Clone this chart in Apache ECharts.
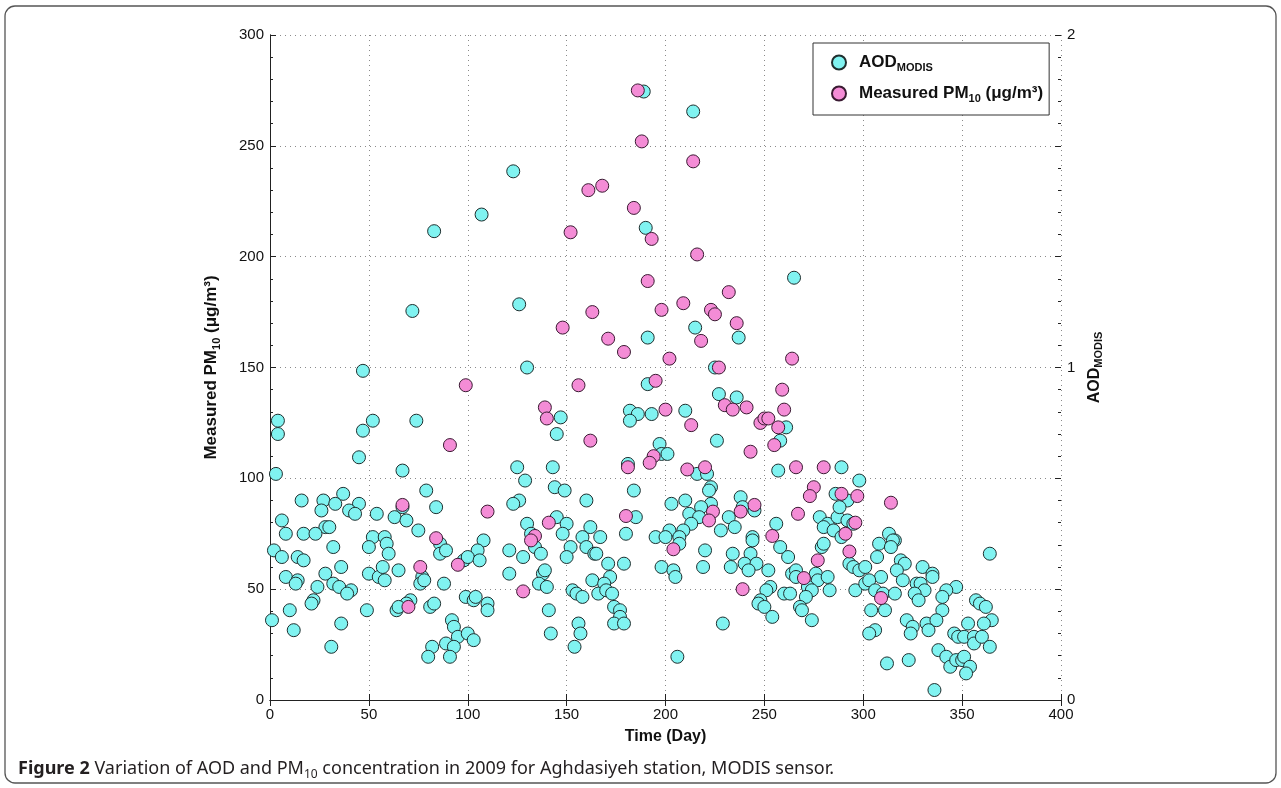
<!DOCTYPE html>
<html>
<head>
<meta charset="utf-8">
<script src="https://cdn.jsdelivr.net/npm/echarts@6/dist/echarts.min.js"></script>
<style>
html,body{margin:0;padding:0;background:#fff;}
#chart{width:1281px;height:788px;}
</style>
</head>
<body>
<div id="chart"></div>
<script>
// ---- Data ----
const xTicks = [0, 50, 100, 150, 200, 250, 300, 350, 400];
const pmTicks = [0, 50, 100, 150, 200, 250, 300];
const aodTicks = [0, 1, 2];

const aodDay = [
4,4,3,45,47,52,74,67,16,27,26,37,33,45,40,43,6,54,63,69,67,79,84,28,30,8,17,23,52,58,75,86,
59,60,50,32,2,6,14,17,28,36,8,14,13,24,32,35,41,39,22,21,10,1,12,36,31,50,55,58,57,65,49,77,76,78,86,89,98,88,99,71,69,64,65,81,83,92,93,95,89,93,82,80,91,100,
47,72,83,107,123,126,130,
147,145,182,186,182,193,197,198,181,125,143,129,144,149,184,126,123,160,145,150,130,162,185,148,132,180,108,158,167,195,
134,137,105,100,106,121,128,121,138,139,136,140,103,104,110,110,103,141,142,152,150,160,164,165,171,179,198,163,172,169,153,155,158,166,170,173,174,177,177,174,179,156,157,154,
189,214,190,265,215,191,237,225,191,
227,236,210,261,258,226,201,216,221,257,289,298,286,292,223,222,210,223,203,238,239,245,218,212,217,213,232,235,228,202,209,207,244,256,278,282,287,288,292,295,280,285,289,
207,200,204,205,220,219,234,233,244,243,240,246,242,252,229,206,258,262,279,280,293,295,264,266,266,276,277,282,283,296,272,274,260,263,271,253,251,248,247,250,268,269,254,274,
313,316,315,308,314,307,298,301,309,301,303,306,310,316,319,321,317,320,330,335,335,327,329,331,326,328,347,342,340,340,304,311,306,303,322,325,324,332,337,333,357,359,362,365,361,353,364,346,348,351,356,356,360,364,338,342,344,347,350,351,354,352,312,323,336
];
const aodValue = [
0.84,0.80,0.68,0.73,0.81,0.84,0.84,0.69,0.60,0.60,0.57,0.62,0.59,0.59,0.57,0.56,0.54,0.56,0.55,0.54,0.58,0.63,0.58,0.52,0.52,0.50,0.50,0.50,0.49,0.49,0.51,0.47,
0.47,0.44,0.46,0.46,0.45,0.43,0.43,0.42,0.38,0.40,0.37,0.36,0.35,0.34,0.35,0.34,0.33,0.32,0.30,0.29,0.27,0.24,0.21,0.23,0.16,0.38,0.37,0.36,0.40,0.39,0.27,0.37,0.35,0.36,0.44,0.45,0.42,0.35,0.31,0.30,0.29,0.27,0.28,0.28,0.29,0.24,0.22,0.19,0.17,0.16,0.16,0.13,0.13,0.20,
0.99,1.17,1.41,1.46,1.59,1.19,1.00,
0.85,0.80,0.87,0.86,0.84,0.86,0.77,0.74,0.71,0.70,0.70,0.66,0.64,0.63,0.63,0.60,0.59,0.60,0.55,0.53,0.53,0.52,0.55,0.50,0.50,0.50,0.48,0.49,0.49,0.49,
0.46,0.44,0.45,0.43,0.42,0.45,0.43,0.38,0.38,0.39,0.35,0.34,0.30,0.31,0.29,0.27,0.18,0.27,0.20,0.46,0.43,0.46,0.44,0.44,0.41,0.41,0.40,0.36,0.37,0.35,0.33,0.32,0.31,0.32,0.33,0.32,0.28,0.27,0.25,0.23,0.23,0.23,0.20,0.16,
1.83,1.77,1.42,1.27,1.12,1.09,1.09,1.00,0.95,
0.92,0.91,0.87,0.82,0.78,0.78,0.74,0.68,0.68,0.69,0.70,0.66,0.62,0.60,0.64,0.63,0.60,0.59,0.59,0.61,0.58,0.57,0.58,0.56,0.55,0.53,0.55,0.52,0.51,0.51,0.51,0.49,0.49,0.53,0.55,0.53,0.55,0.58,0.54,0.53,0.52,0.51,0.49,
0.47,0.49,0.39,0.37,0.45,0.40,0.44,0.40,0.48,0.44,0.41,0.41,0.39,0.39,0.23,0.13,0.46,0.43,0.46,0.47,0.41,0.40,0.38,0.39,0.37,0.38,0.36,0.37,0.33,0.33,0.34,0.33,0.32,0.32,0.31,0.34,0.33,0.30,0.29,0.28,0.28,0.27,0.25,0.24,
0.50,0.48,0.48,0.47,0.46,0.43,0.39,0.40,0.37,0.35,0.36,0.33,0.32,0.32,0.42,0.41,0.39,0.36,0.40,0.38,0.37,0.35,0.35,0.33,0.32,0.30,0.34,0.33,0.31,0.27,0.27,0.27,0.21,0.20,0.24,0.22,0.20,0.23,0.24,0.21,0.30,0.29,0.28,0.24,0.23,0.23,0.44,0.20,0.19,0.19,0.19,0.17,0.19,0.16,0.15,0.13,0.10,0.12,0.12,0.13,0.10,0.08,0.11,0.12,0.03
];

const pmDay = [
186,188,214,168,161,184,152,193,216,191,232,163,198,209,223,225,148,236,171,218,179,202,264,227,156,195,259,99,91,67,84,139,140,162,200,194,192,181,110,141,180,134,76,95,70,132,128,
230,234,241,260,213,248,250,252,257,255,243,211,220,266,280,275,273,289,297,245,238,224,222,267,296,254,291,314,204,239,277,293,270,309
];
const pmValue = [
275,252,243,232,230,222,211,208,201,189,184,175,176,179,176,174,168,170,163,162,157,154,154,150,142,144,140,142,115,88,73,132,127,117,131,110,107,105,85,80,83,74,60,61,42,72,49,
133,131,132,131,124,125,127,127,123,115,112,104,105,105,105,96,92,93,92,88,85,85,81,84,80,74,75,89,68,50,63,67,55,46
];

const FONT = '"Liberation Sans", Arial, sans-serif';
const AXIS_COLOR = '#222';

const aodData = aodDay.map((d, i) => [d, aodValue[i]]);
const pmData = pmDay.map((d, i) => [d, pmValue[i]]);

const chart = echarts.init(document.getElementById('chart'), null, {renderer: 'canvas'});

const tickCommon = {inside: true, length: 6, lineStyle: {color: AXIS_COLOR, width: 1}};
const lineCommon = {show: true, lineStyle: {color: AXIS_COLOR, width: 1}};
const dotted = {show: true, lineStyle: {color: '#8a8a8a', width: 1, type: [1, 4]}};

function nameRich(size) {
  return {
    b: {fontFamily: FONT, fontSize: size, fontWeight: 'bold', color: '#111', lineHeight: size + 4},
    s: {fontFamily: FONT, fontSize: Math.round(size * 0.66), fontWeight: 'bold', color: '#111', lineHeight: Math.round(size * 0.66), verticalAlign: 'bottom'}
  };
}

const option = {
  backgroundColor: '#fff',
  animation: false,
  textStyle: {fontFamily: FONT},
  title: {
    left: 13, top: 752,
    text: '{b|Figure 2} Variation of AOD and PM{s|10} concentration in 2009 for Aghdasiyeh station, MODIS sensor.',
    textStyle: {
      fontFamily: '"Noto Sans", sans-serif', fontSize: 18, fontWeight: 'normal', color: '#231f20', lineHeight: 24,
      rich: {
        b: {fontFamily: '"Noto Sans", sans-serif', fontSize: 18, fontWeight: 'bold', color: '#231f20', lineHeight: 24},
        s: {fontFamily: '"Noto Sans", sans-serif', fontSize: 12, color: '#231f20', lineHeight: 12, verticalAlign: 'bottom'}
      }
    }
  },
  graphic: [{
    type: 'rect', silent: true, z: -10,
    shape: {x: 5, y: 6, width: 1271, height: 777, r: 10},
    style: {fill: 'none', stroke: '#555', lineWidth: 1.3}
  }],
  legend: {
    left: 813, top: 43, orient: 'vertical',
    padding: [11, 6, 11, 18], itemGap: 12,
    itemWidth: 14, itemHeight: 14,
    backgroundColor: '#fff', borderColor: '#333', borderWidth: 1,
    data: [{name: 'aod', icon: 'circle'}, {name: 'pm', icon: 'circle'}],
    formatter: function (n) {
      return n === 'aod' ? '{b|AOD}{s|MODIS}' : '{b|Measured PM}{s|10}{b| (μg/m³)}';
    },
    textStyle: {
      fontFamily: FONT, fontSize: 17, fontWeight: 'bold', color: '#111', padding: [0, 0, 0, 8],
      rich: nameRich(17)
    }
  },
  grid: {left: 270, right: 220, top: 35, bottom: 88, containLabel: false},
  xAxis: [
    {
      type: 'value', min: 0, max: 400, interval: 50, position: 'bottom',
      axisLine: lineCommon, axisTick: tickCommon,
      axisLabel: {fontFamily: FONT, fontSize: 15, color: '#111', margin: 7},
      splitLine: dotted,
      name: 'Time (Day)', nameLocation: 'middle', nameGap: 29,
      nameTextStyle: {fontFamily: FONT, fontSize: 16, fontWeight: 'bold', color: '#111'}
    },
    {
      type: 'value', min: 0, max: 400, interval: 50, position: 'top',
      axisLine: lineCommon, axisTick: tickCommon,
      axisLabel: {show: false}, splitLine: {show: false}
    }
  ],
  yAxis: [
    {
      type: 'value', min: 0, max: 300, interval: 50, position: 'left',
      axisLine: lineCommon, axisTick: tickCommon,
      minorTick: {show: true, splitNumber: 5, length: 3, lineStyle: {color: AXIS_COLOR}},
      axisLabel: {fontFamily: FONT, fontSize: 15, color: '#111', margin: 6},
      splitLine: dotted,
      name: '{b|Measured PM}{s|10}{b| (μg/m³)}', nameLocation: 'middle', nameGap: 48, nameRotate: 90,
      nameTextStyle: {fontFamily: FONT, fontSize: 17, fontWeight: 'bold', color: '#111', rich: nameRich(17)}
    },
    {
      type: 'value', min: 0, max: 2, interval: 1, position: 'right',
      axisLine: lineCommon, axisTick: {show: false},
      axisLabel: {fontFamily: FONT, fontSize: 15, color: '#111', margin: 6},
      splitLine: {show: false},
      name: '{b|AOD}{s|MODIS}', nameLocation: 'middle', nameGap: 20, nameRotate: 90,
      nameTextStyle: {fontFamily: FONT, fontSize: 16, fontWeight: 'bold', color: '#111', rich: nameRich(16)}
    },
    {
      type: 'value', min: 0, max: 300, interval: 50, position: 'right',
      axisLine: {show: false}, axisTick: tickCommon,
      minorTick: {show: true, splitNumber: 5, length: 3, lineStyle: {color: AXIS_COLOR}},
      axisLabel: {show: false}, splitLine: {show: false}
    }
  ],
  series: [
    {
      name: 'aod', type: 'scatter', xAxisIndex: 0, yAxisIndex: 1,
      symbol: 'circle', symbolSize: 13,
      itemStyle: {color: '#80f3f1', borderColor: '#1f2f2f', borderWidth: 1, opacity: 1},
      data: aodData
    },
    {
      name: 'pm', type: 'scatter', xAxisIndex: 0, yAxisIndex: 0,
      symbol: 'circle', symbolSize: 13,
      itemStyle: {color: '#f48cd6', borderColor: '#3a1a32', borderWidth: 1, opacity: 1},
      data: pmData
    }
  ]
};
chart.setOption(option);
</script>
</body>
</html>
